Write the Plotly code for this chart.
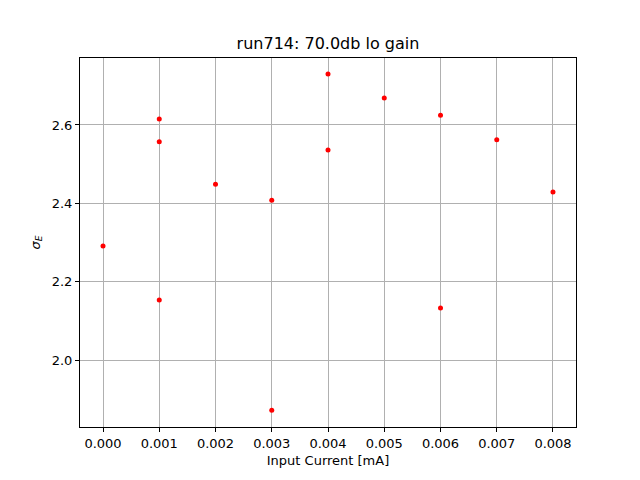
import plotly.graph_objects as go

x_vals = [0.000, 0.001, 0.001, 0.001, 0.002, 0.003, 0.003, 0.004, 0.004, 0.005, 0.006, 0.006, 0.007, 0.008]
y_vals = [2.291, 2.615, 2.557, 2.153, 2.449, 2.408, 1.872, 2.730, 2.536, 2.669, 2.625, 2.133, 2.562, 2.429]
x_ticks = [0.000, 0.001, 0.002, 0.003, 0.004, 0.005, 0.006, 0.007, 0.008]
y_ticks = [2.0, 2.2, 2.4, 2.6]

fig = go.Figure()
fig.add_trace(go.Scatter(x=x_vals, y=y_vals, mode="markers",
                         marker=dict(color="red", size=5, line=dict(width=0))))

font = dict(family="DejaVu Sans", size=13, color="black")
fig.update_layout(
    width=640, height=480,
    margin=dict(l=72, r=72, t=50, b=61),
    paper_bgcolor="white", plot_bgcolor="white",
    font=font,
    showlegend=False,
    title=dict(text="run714: 70.0db lo gain", x=(328 - 8) / 640, xanchor="center",
               y=1 - 35 / 480, yanchor="middle", font=dict(family="DejaVu Sans", size=16)),
)
fig.update_xaxes(range=[-0.000409, 0.008409], tickvals=x_ticks,
                 ticktext=[f"{v:.3f}" for v in x_ticks],
                 showgrid=True, gridcolor="#b0b0b0", gridwidth=1,
                 showline=True, linecolor="black", linewidth=1, mirror=True,
                 ticks="outside", ticklen=4, tickcolor="black",
                 zeroline=False,
                 title=dict(text="Input Current [mA]", font=font, standoff=6))
fig.update_yaxes(range=[1.829, 2.771], tickvals=y_ticks,
                 ticktext=[f"{v:.1f}" for v in y_ticks],
                 showgrid=True, gridcolor="#b0b0b0", gridwidth=1,
                 showline=True, linecolor="black", linewidth=1, mirror=True,
                 ticks="outside", ticklen=4, tickcolor="black",
                 zeroline=False,
                 title=dict(text="<i>σ</i><sub><i>E</i></sub>", font=font, standoff=8))

fig.write_html("out.html")
